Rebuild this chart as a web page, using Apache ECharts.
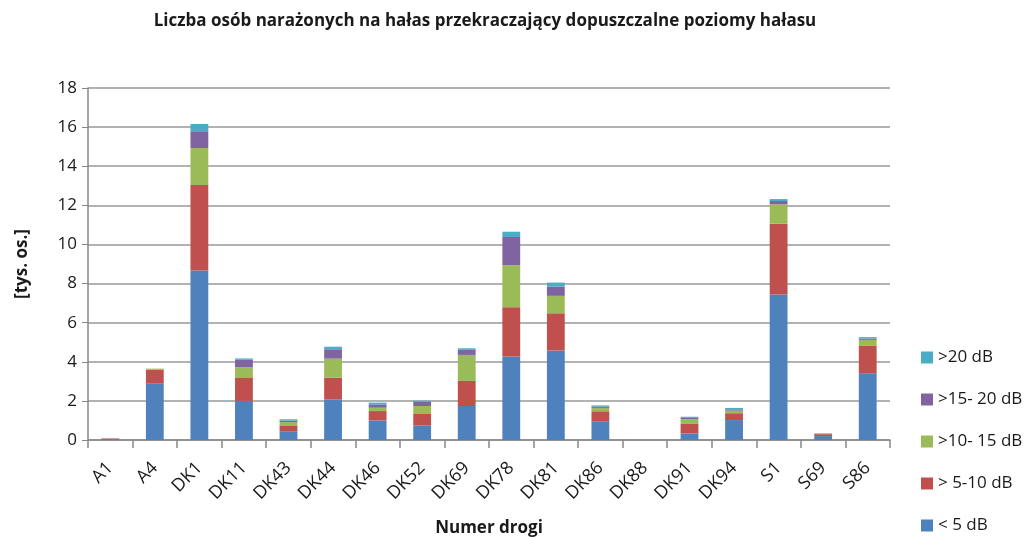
<!DOCTYPE html>
<html><head><meta charset="utf-8">
<script src="https://cdn.jsdelivr.net/npm/echarts@6/dist/echarts.min.js"></script>
<style>html,body{margin:0;padding:0;background:#fff}#c{width:1030px;height:539px}</style>
</head><body><div id="c"></div>
<script>
const categories = ['A1','A4','DK1','DK11','DK43','DK44','DK46','DK52','DK69','DK78','DK81','DK86','DK88','DK91','DK94','S1','S69','S86'];
const seriesNames = ['< 5 dB','> 5-10 dB','>10- 15 dB','>15- 20 dB','>20 dB'];
const below5   = [0.03,2.90,8.67,2.00,0.45,2.08,1.00,0.75,1.74,4.27,4.57,0.96,0,0.34,1.02,7.44,0.20,3.41];
const from5to10  = [0.05,0.70,4.37,1.17,0.30,1.11,0.48,0.58,1.28,2.52,1.91,0.51,0,0.48,0.35,3.62,0.10,1.40];
const from10to15 = [0,0.05,1.89,0.55,0.17,0.97,0.17,0.41,1.33,2.15,0.89,0.17,0,0.24,0.13,0.99,0.02,0.31];
const from15to20 = [0,0,0.86,0.38,0.07,0.48,0.17,0.21,0.26,1.44,0.48,0.07,0,0.07,0.07,0.17,0.02,0.07];
const above20    = [0,0,0.37,0.07,0.07,0.13,0.09,0.06,0.08,0.27,0.20,0.06,0,0.06,0.07,0.10,0,0.07];
const yTicks = [0,2,4,6,8,10,12,14,16,18];
const colors = ['#4F81BD','#C0504D','#9BBB59','#8064A2','#4BACC6'];
const values = [below5, from5to10, from10to15, from15to20, above20];
const font = '"Open Sans", "Liberation Sans", sans-serif';
const chart = echarts.init(document.getElementById('c'));
chart.setOption({
  animation:false,
  textStyle:{fontFamily:font},
  title:{text:'Liczba osób narażonych na hałas przekraczający dopuszczalne poziomy hałasu',left:480,top:8,textAlign:'center',
    textStyle:{fontSize:17,fontWeight:'bold',color:'#1a1a1a',fontFamily:font}},
  legend:{orient:'vertical',left:921,top:349,padding:0,itemWidth:12,itemHeight:12,itemGap:25,
    data:seriesNames.slice().reverse(),
    textStyle:{fontSize:17,color:'#1a1a1a',fontFamily:font},icon:'rect'},
  grid:{left:88,right:140,top:88,bottom:99,containLabel:false,outerBoundsMode:'none'},
  xAxis:{type:'category',data:categories,
    name:'Numer drogi',nameLocation:'middle',nameGap:80,
    nameTextStyle:{fontSize:17,fontWeight:'bold',color:'#1a1a1a'},
    axisLine:{lineStyle:{color:'#888',width:1.5}},
    axisTick:{show:true,alignWithLabel:false,length:8,lineStyle:{color:'#888',width:1.5}},
    axisLabel:{rotate:45,fontSize:18,color:'#1a1a1a',interval:0,margin:25}},
  yAxis:{type:'value',min:yTicks[0],max:yTicks[yTicks.length-1],interval:2,
    name:'[tys. os.]',nameLocation:'middle',nameGap:57,nameRotate:90,
    nameTextStyle:{fontSize:17,fontWeight:'bold',color:'#1a1a1a'},
    axisLine:{show:true,lineStyle:{color:'#888',width:1.5}},
    axisTick:{show:true,length:6,lineStyle:{color:'#888'}},
    axisLabel:{fontSize:17,color:'#1a1a1a',margin:11},
    splitLine:{lineStyle:{color:'#999',width:1.5}}},
  series: seriesNames.map((n,i)=>({name:n,type:'bar',stack:'s',data:values[i],barWidth:'40%',
    itemStyle:{color:colors[i]}}))
});
</script></body></html>
